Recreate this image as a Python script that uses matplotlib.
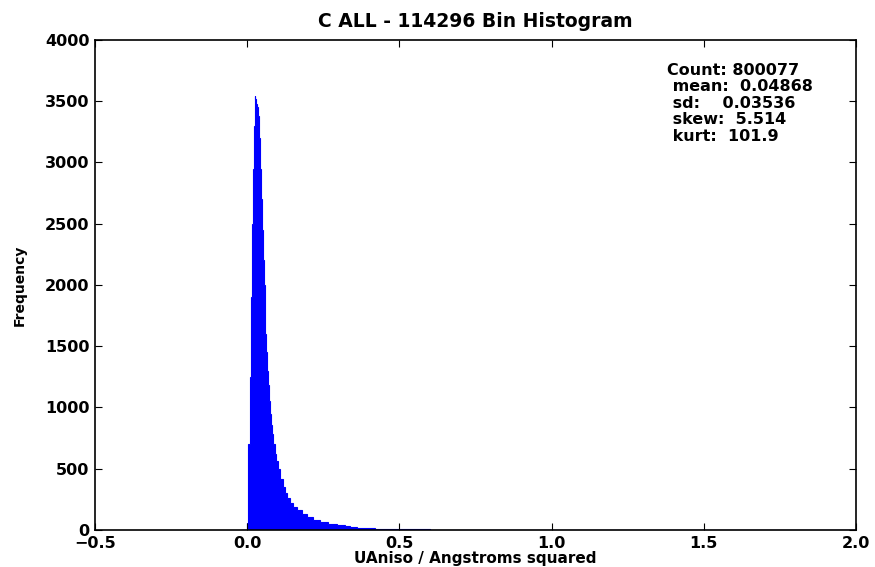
import matplotlib

matplotlib.use("Agg")
import matplotlib.pyplot as plt

bin_edges = [
    -0.020, 0.000, 0.004, 0.008, 0.012, 0.015, 0.018, 0.021, 0.024, 0.027,
    0.030, 0.033, 0.036, 0.039, 0.042, 0.045, 0.048, 0.051, 0.054, 0.057,
    0.060, 0.063, 0.066, 0.069, 0.072, 0.075, 0.078, 0.081, 0.085, 0.090,
    0.095, 0.100, 0.108, 0.116, 0.124, 0.132, 0.141, 0.152, 0.163, 0.180,
    0.195, 0.215, 0.239, 0.265, 0.294, 0.320, 0.338, 0.360, 0.390, 0.420,
    0.460, 0.520, 0.600, 0.700, 0.850, 1.000, 1.300, 2.000,
]
bin_counts = [
    3, 60, 700, 1250, 1900, 2500, 2950, 3300, 3540, 3520,
    3480, 3450, 3380, 3200, 2950, 2700, 2450, 2200, 2000, 1800,
    1600, 1450, 1300, 1180, 1050, 950, 860, 780, 700, 620,
    560, 500, 420, 350, 300, 260, 220, 185, 160, 130,
    105, 85, 65, 52, 41, 32, 26, 20, 14, 10,
    7, 5, 3, 2, 1, 1, 1,
]

stats_text = (
    "Count: 800077\n"
    " mean:  0.04868\n"
    " sd:    0.03536\n"
    " skew:  5.514\n"
    " kurt:  101.9"
)

plt.rcParams["font.weight"] = "bold"
plt.rcParams["axes.labelweight"] = "bold"
plt.rcParams["axes.titleweight"] = "bold"

fig = plt.figure(figsize=(8.75, 5.67), dpi=100)
ax = fig.add_axes([0.1086, 0.0653, 0.8697, 0.8642])

ax.hist(
    bin_edges[:-1],
    bins=bin_edges,
    weights=bin_counts,
    histtype="stepfilled",
    color="blue",
    edgecolor="blue",
    linewidth=0.8,
)

ax.set_xlim(-0.5, 2.0)
ax.set_ylim(0, 4000)
ax.set_xticks([-0.5, 0.0, 0.5, 1.0, 1.5, 2.0])
ax.set_yticks(range(0, 4001, 500))
ax.tick_params(direction="in", top=True, right=True, length=5, labelsize=11.5, pad=4)
for side in ax.spines.values():
    side.set_linewidth(1.2)

ax.set_title("C ALL - 114296 Bin Histogram", fontsize=13.5, pad=9)
ax.set_xlabel("UAniso / Angstroms squared", fontsize=11, labelpad=0)
ax.set_ylabel("Frequency", fontsize=10, labelpad=13)
ax.text(1.379, 3815, stats_text, fontsize=11.5, va="top", ha="left", linespacing=1.13)

fig.savefig("out.png", dpi=100)
